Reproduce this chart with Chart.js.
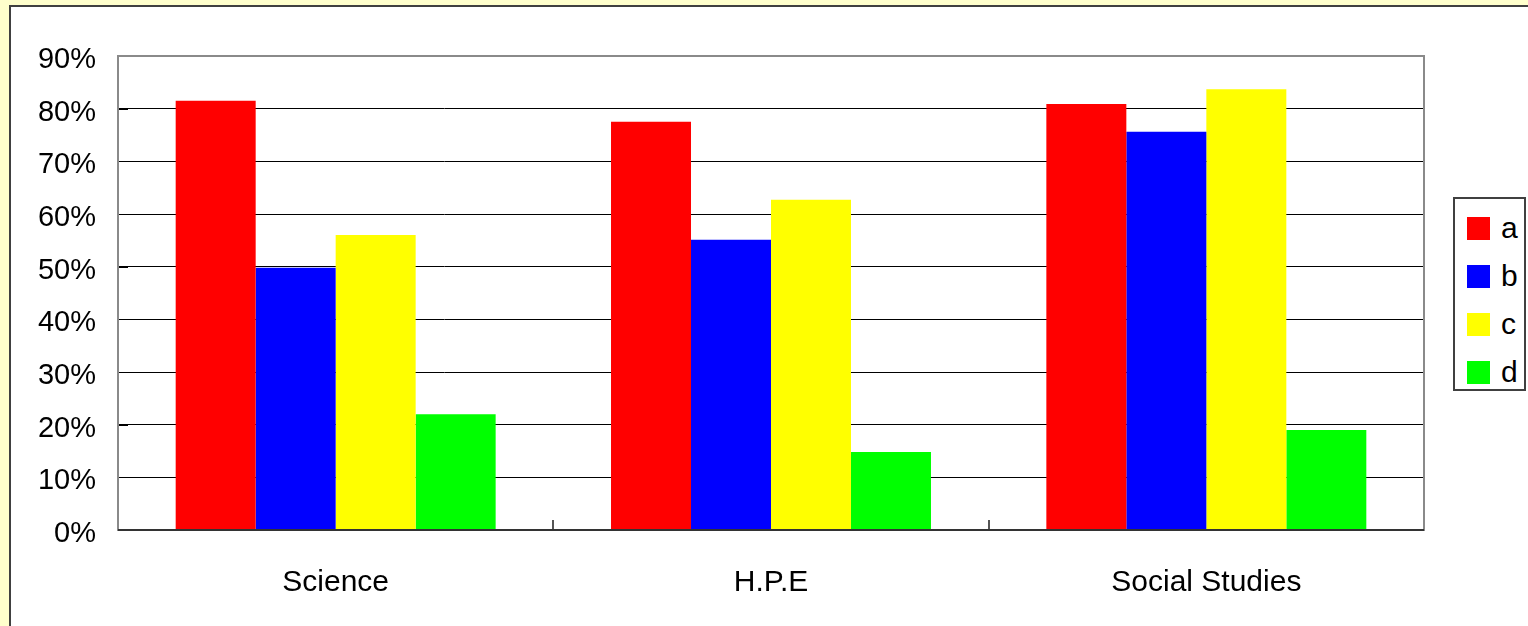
<!DOCTYPE html>
<html>
<head>
<meta charset="utf-8">
<script src="https://cdn.jsdelivr.net/npm/chart.js@4/dist/chart.umd.min.js"></script>
<style>
  html, body { margin: 0; padding: 0; }
  body { width: 1528px; height: 626px; background: #FFFFCC; overflow: hidden; position: relative;
         font-family: "Liberation Sans", Arial, sans-serif; }
  #panel { position: absolute; left: 9px; top: 5px; width: 1540px; height: 640px;
           background: #fff; border-left: 2px solid #404040; border-top: 2px solid #404040; }
  #wrap { position: absolute; left: 0; top: 0; width: 1528px; height: 626px; }
  #legend { position: absolute; left: 1453px; top: 197px; width: 69px; height: 190px;
            border: 2px solid #404040; background: #fff; }
  .item { position: absolute; left: 12px; height: 24px; font-size: 30px; line-height: 24px; color: #000; }
  .item span.sw { position: absolute; left: 0; top: 0; width: 23px; height: 23px; }
  .item span.lb { position: absolute; left: 34px; top: -1px; }
</style>
</head>
<body>
<div id="panel"></div>
<div id="wrap"><canvas id="chart"></canvas></div>
<div id="legend"></div>
<script>
// categories and series
const subjects = ['Science', 'H.P.E', 'Social Studies'];
const seriesNames = ['a', 'b', 'c', 'd'];
const seriesColors = ['#FF0000', '#0000FF', '#FFFF00', '#00FF00'];
const valuesA = [81.5, 77.5, 80.9];
const valuesB = [49.8, 55.1, 75.6];
const valuesC = [56.0, 62.7, 83.7];
const valuesD = [22.0, 14.8, 19.0];
const yTicks = [0, 10, 20, 30, 40, 50, 60, 70, 80, 90];

const allValues = [valuesA, valuesB, valuesC, valuesD];
const FONT = '"Liberation Sans", Arial, sans-serif';

// plot frame + small inward ticks like the original spreadsheet chart
const framePlugin = {
    id: 'frame',
    afterDatasetsDraw(chart) {
        const { ctx, chartArea: a, scales: { x, y } } = chart;
        ctx.save();
        // inward y ticks
        ctx.strokeStyle = '#000';
        ctx.lineWidth = 1;
        yTicks.forEach(v => {
            const py = Math.round(y.getPixelForValue(v)) + 0.5;
            ctx.beginPath();
            ctx.moveTo(a.left, py);
            ctx.lineTo(a.left + 10, py);
            ctx.stroke();
        });
        // inward x ticks between categories
        ctx.strokeStyle = '#555';
        ctx.lineWidth = 2;
        for (let i = 0; i < subjects.length - 1; i++) {
            const px = Math.round((x.getPixelForValue(i) + x.getPixelForValue(i + 1)) / 2);
            ctx.beginPath();
            ctx.moveTo(px, a.bottom);
            ctx.lineTo(px, a.bottom - 10);
            ctx.stroke();
        }
        // border
        ctx.strokeStyle = '#8a8a8a';
        ctx.lineWidth = 2;
        ctx.strokeRect(a.left, a.top, a.right - a.left, a.bottom - a.top);
        ctx.strokeStyle = '#333';
        ctx.beginPath();
        ctx.moveTo(a.left, a.bottom);
        ctx.lineTo(a.right, a.bottom);
        ctx.stroke();
        ctx.restore();
    }
};

new Chart(document.getElementById('chart'), {
    type: 'bar',
    data: {
        labels: subjects,
        datasets: seriesNames.map((name, i) => ({
            label: name,
            data: allValues[i],
            backgroundColor: seriesColors[i],
            borderWidth: 0,
            categoryPercentage: 0.735,
            barPercentage: 1.0
        }))
    },
    options: {
        responsive: true,
        maintainAspectRatio: false,
        animation: false,
        layout: { padding: { left: 0, top: 56, right: 104, bottom: 0 } },
        plugins: {
            legend: { display: false },
            tooltip: { enabled: false }
        },
        scales: {
            x: {
                afterFit: (axis) => { axis.height = 96; },
                grid: { display: false, drawTicks: false },
                border: { display: false },
                ticks: {
                    color: '#000',
                    padding: 35,
                    font: { family: FONT, size: 30 }
                }
            },
            y: {
                min: 0,
                max: 90,
                afterFit: (axis) => { axis.width = 118; },
                afterBuildTicks: (axis) => { axis.ticks = yTicks.map(v => ({ value: v })); },
                grid: { color: '#000', lineWidth: 1, drawTicks: false },
                border: { display: false },
                ticks: {
                    color: '#000',
                    padding: 22,
                    labelOffset: 4,
                    callback: (v) => v + '%',
                    font: { family: FONT, size: 29 }
                }
            }
        }
    },
    plugins: [framePlugin]
});

// legend
const legendEl = document.getElementById('legend');
legendEl.innerHTML = seriesNames.map((name, i) => `
    <div class="item" style="top:${18 + i * 48}px">
        <span class="sw" style="background:${seriesColors[i]}"></span>
        <span class="lb">${name}</span>
    </div>
`).join('');
</script>
</body>
</html>
